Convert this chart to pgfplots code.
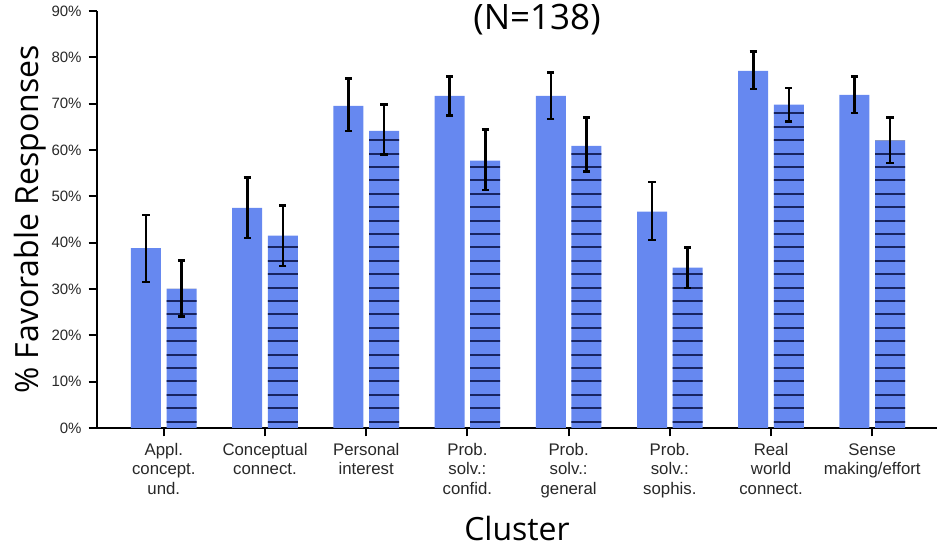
\documentclass[border=0pt]{standalone}
\usepackage{pgfplots}
\pgfplotsset{compat=1.18}
\usepackage{fontspec}
\setmainfont{Liberation Sans}
\newfontfamily\osans{Open Sans}
\definecolor{barblue}{RGB}{102,136,240}
\definecolor{hatchnavy}{RGB}{24,36,96}
\definecolor{ticktext}{RGB}{40,40,40}
\newcommand{\hatchlines}{%
  \pgfsetlinewidth{1pt}%
  \pgfsetstrokecolor{hatchnavy}%
  \foreach \k in {0,...,40}{%
    \pgfmathsetlengthmacro{\yy}{3.2pt+\k*6.7pt}%
    \pgfpathmoveto{\pgfpointadd{\pgfpointanchor{path picture bounding box}{south west}}{\pgfpoint{-1pt}{\yy}}}%
    \pgfpathlineto{\pgfpointadd{\pgfpointanchor{path picture bounding box}{south east}}{\pgfpoint{1pt}{\yy}}}%
  }%
  \pgfusepath{stroke}%
}
\begin{document}
\begin{tikzpicture}
\begin{axis}[
  scale only axis,
  width=420pt, height=208.5pt,
  xmin=-0.66, xmax=7.64,
  ymin=0, ymax=90,
  axis x line*=bottom, axis y line*=left,
  axis line style={-, line width=1.15pt, black},
  ybar, bar width=15pt,
  xtick={0,1,2,3,4,5,6,7},
  xticklabels={{Appl.\\concept.\\und.},{Conceptual\\connect.},{Personal\\interest},{Prob.\\solv.:\\confid.},{Prob.\\solv.:\\general},{Prob.\\solv.:\\sophis.},{Real\\world\\connect.},{Sense\\making/effort}},
  xticklabel style={align=center, font=\fontsize{8.4}{9.6}\selectfont, text=ticktext},
  ytick={0,10,...,90},
  yticklabel={\pgfmathprintnumber[assume math mode=true]{\tick}\%},
  yticklabel style={font=\fontsize{7.5}{9}\selectfont, text=ticktext},
  tick align=outside,
  major tick length=4.2pt,
  tick style={line width=1pt, black},
  xlabel={\osans\fontsize{16}{19}\selectfont Cluster},
  xlabel style={at={(axis description cs:0.5,-0.24)}, anchor=center},
  ylabel={\osans\fontsize{16}{19}\selectfont \% Favorable Responses},
  ylabel style={at={(axis description cs:-0.0798,0.5)}, anchor=center, rotate=0},
  title={\osans\fontsize{17.5}{20}\selectfont (N=138)},
  title style={at={(axis description cs:0.5238,0.9496)}, anchor=center},
  clip=false,
  error bars/error bar style={line width=1.3pt, black},
  error bars/error mark options={rotate=90, mark size=1.8pt, line width=1.3pt, black},
]
% solid bars with error bars
\addplot[fill=barblue, draw=none, bar shift=-8.9pt,
  error bars/y dir=both, error bars/y explicit] coordinates {
  (0,38.8) += (0,7.2) -= (0,7.3)
  (1,47.5) += (0,6.5) -= (0,6.5)
  (2,69.5) += (0,5.9) -= (0,5.4)
  (3,71.7) += (0,4.1) -= (0,4.3)
  (4,71.7) += (0,5.0) -= (0,5.0)
  (5,46.7) += (0,6.4) -= (0,6.1)
  (6,77.1) += (0,4.1) -= (0,3.9)
  (7,71.9) += (0,3.9) -= (0,3.9)
};
% hatched bars
\pgfplotstableread{
x   y     ep   em
0   30.0  6.1  6.0
1   41.5  6.5  6.5
2   64.1  5.7  5.1
3   57.7  6.7  6.3
4   60.9  6.1  5.6
5   34.6  4.3  4.4
6   69.8  3.6  3.7
7   62.0  5.0  4.8
}\hatched
\addplot[fill=barblue, draw=none, bar shift=8.9pt,
  path picture={\hatchlines}] table[x=x, y=y] {\hatched};
\addplot[fill=none, draw=none, bar shift=8.9pt,
  error bars/y dir=both, error bars/y explicit]
  table[x=x, y=y, y error plus=ep, y error minus=em] {\hatched};
\coordinate (bl) at (rel axis cs:0,0);
\coordinate (tr) at (rel axis cs:1,1);
\end{axis}
\pgfresetboundingbox
\path ([shift={(-48.5pt,-59pt)}]bl) rectangle ([shift={(0pt,5.5pt)}]tr);
\end{tikzpicture}
\end{document}
